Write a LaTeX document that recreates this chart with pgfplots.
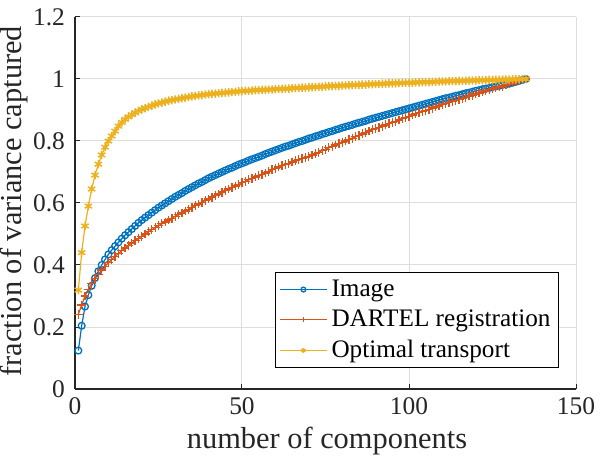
\documentclass[border=0pt]{standalone}
\usepackage{pgfplots}
\pgfplotsset{compat=1.18}
\usepackage{pgfplotstable}
\usepackage{fontspec}
\setmainfont{Liberation Serif}
\definecolor{mblue}{rgb}{0,0.447,0.741}
\definecolor{morange}{rgb}{0.850,0.325,0.098}
\definecolor{myellow}{rgb}{0.929,0.694,0.125}
\definecolor{axgray}{rgb}{0.15,0.15,0.15}
\definecolor{gridgray}{rgb}{0.87,0.87,0.87}
\pgfplotstableread{
x img dar ot
1 .124 .241 .319
2 .204 .271 .440
3 .266 .300 .526
4 .303 .322 .590
5 .333 .340 .645
6 .358 .356 .690
7 .380 .370 .725
8 .400 .384 .755
9 .418 .396 .780
10 .434 .407 .800
11 .448 .418 .816
12 .461 .428 .832
13 .473 .437 .848
14 .485 .446 .860
15 .496 .455 .870
16 .506 .463 .878
17 .516 .471 .885
18 .526 .479 .891
19 .536 .486 .897
20 .545 .493 .902
21 .553 .500 .906
22 .561 .507 .910
23 .569 .514 .914
24 .577 .521 .918
25 .585 .527 .921
26 .592 .533 .924
27 .599 .539 .927
28 .606 .545 .930
29 .613 .551 .932
30 .620 .557 .934
31 .626 .563 .936
32 .632 .568 .938
33 .639 .574 .940
34 .645 .580 .942
35 .651 .585 .944
36 .657 .591 .945
37 .663 .597 .947
38 .668 .602 .948
39 .674 .608 .950
40 .680 .613 .951
41 .685 .619 .952
42 .690 .624 .953
43 .695 .629 .954
44 .700 .635 .955
45 .705 .640 .956
46 .710 .645 .957
47 .714 .650 .958
48 .719 .655 .959
49 .724 .660 .960
50 .728 .665 .961
51 .732 .670 .962
52 .737 .675 .962
53 .741 .679 .963
54 .745 .684 .964
55 .749 .688 .964
56 .753 .693 .965
57 .758 .697 .965
58 .762 .702 .966
59 .766 .707 .966
60 .770 .711 .967
61 .774 .716 .968
62 .778 .720 .968
63 .782 .724 .969
64 .785 .728 .969
65 .789 .732 .970
66 .793 .736 .971
67 .797 .740 .971
68 .800 .744 .972
69 .804 .747 .972
70 .808 .751 .973
71 .811 .755 .974
72 .815 .760 .974
73 .818 .764 .975
74 .822 .769 .975
75 .825 .773 .976
76 .829 .778 .977
77 .832 .782 .977
78 .836 .787 .978
79 .839 .791 .978
80 .843 .796 .979
81 .846 .800 .979
82 .849 .805 .980
83 .852 .809 .980
84 .856 .814 .981
85 .859 .818 .981
86 .862 .823 .982
87 .865 .827 .982
88 .869 .832 .983
89 .872 .836 .983
90 .875 .840 .984
91 .878 .844 .984
92 .881 .848 .985
93 .884 .852 .985
94 .887 .856 .986
95 .890 .860 .986
96 .893 .864 .986
97 .896 .868 .987
98 .899 .872 .987
99 .902 .876 .988
100 .905 .880 .988
101 .908 .884 .988
102 .911 .888 .989
103 .914 .891 .989
104 .917 .895 .990
105 .920 .899 .990
106 .923 .902 .990
107 .926 .906 .991
108 .929 .910 .991
109 .932 .913 .992
110 .935 .917 .992
111 .938 .920 .992
112 .940 .924 .993
113 .943 .927 .993
114 .946 .931 .993
115 .948 .934 .994
116 .951 .938 .994
117 .954 .941 .994
118 .956 .945 .995
119 .959 .948 .995
120 .962 .952 .995
121 .964 .955 .996
122 .967 .958 .996
123 .969 .961 .996
124 .971 .965 .997
125 .974 .968 .997
126 .976 .971 .997
127 .978 .974 .997
128 .981 .977 .998
129 .983 .981 .998
130 .985 .984 .998
131 .988 .987 .999
132 .991 .990 .999
133 .994 .994 .999
134 .997 .997 1.000
135 1.000 1.000 1.000
}\datatable
\begin{document}
\begin{tikzpicture}
\path[use as bounding box] (-37.5pt,-38.5pt) rectangle (262.5pt,194.5pt);
\begin{axis}[
  at={(0,0)}, anchor=south west,
  scale only axis, width=250.5pt, height=186pt,
  xmin=0, xmax=150, ymin=0, ymax=1.2,
  xtick={0,50,100,150}, ytick={0,0.2,0.4,0.6,0.8,1,1.2},
  yticklabels={0,0.2,0.4,0.6,0.8,1,1.2},
  axis x line*=bottom, axis y line*=left,
  axis line style={axgray, line width=0.6pt, -},
  tick align=inside, major tick length=2.5pt,
  tick style={axgray, line width=0.5pt},
  grid=major, grid style={gridgray, line width=0.5pt},
  /pgf/number format/assume math mode=true,
  tick label style={font=\rmfamily\fontsize{12.7}{14}\selectfont, text=axgray},
  xticklabel style={yshift=-1pt},
  yticklabel style={xshift=-1.5pt},
  label style={font=\rmfamily\fontsize{15.2}{18}\selectfont, text=axgray},
  xlabel={number of components},
  ylabel={fraction of variance captured},
  xlabel style={at={(axis description cs:0.503,-0.1398)}, anchor=center},
  ylabel style={at={(axis description cs:-0.1215,0.505)}, anchor=center},
  legend style={at={(0.966,0.056)}, anchor=south east, draw=black, line width=0.5pt,
    font=\rmfamily\fontsize{12.6}{15}\selectfont, inner xsep=2pt, inner ysep=1.5pt,
    row sep=1.3pt, cells={anchor=west}, text=black},
  legend image code/.code={\draw[mark repeat=2,mark phase=2,#1,mark size=1.2pt] plot coordinates {(0pt,0pt) (11.75pt,0pt) (23.5pt,0pt)};},
  legend cell align=left,
]
\addplot[mblue, line width=0.6pt, mark=o, mark size=1.7pt, mark options={line width=0.65pt}] table[x=x,y=img] {\datatable};
\addlegendentry{Image}
\addplot[morange, line width=0.6pt, mark=+, mark size=2.2pt, mark options={line width=0.65pt}] table[x=x,y=dar] {\datatable};
\addlegendentry{DARTEL registration}
\addplot[myellow, line width=0.6pt, mark=asterisk, mark size=2.1pt, mark options={line width=0.75pt}] table[x=x,y=ot] {\datatable};
\addlegendentry{Optimal transport}
\end{axis}
\end{tikzpicture}
\end{document}
